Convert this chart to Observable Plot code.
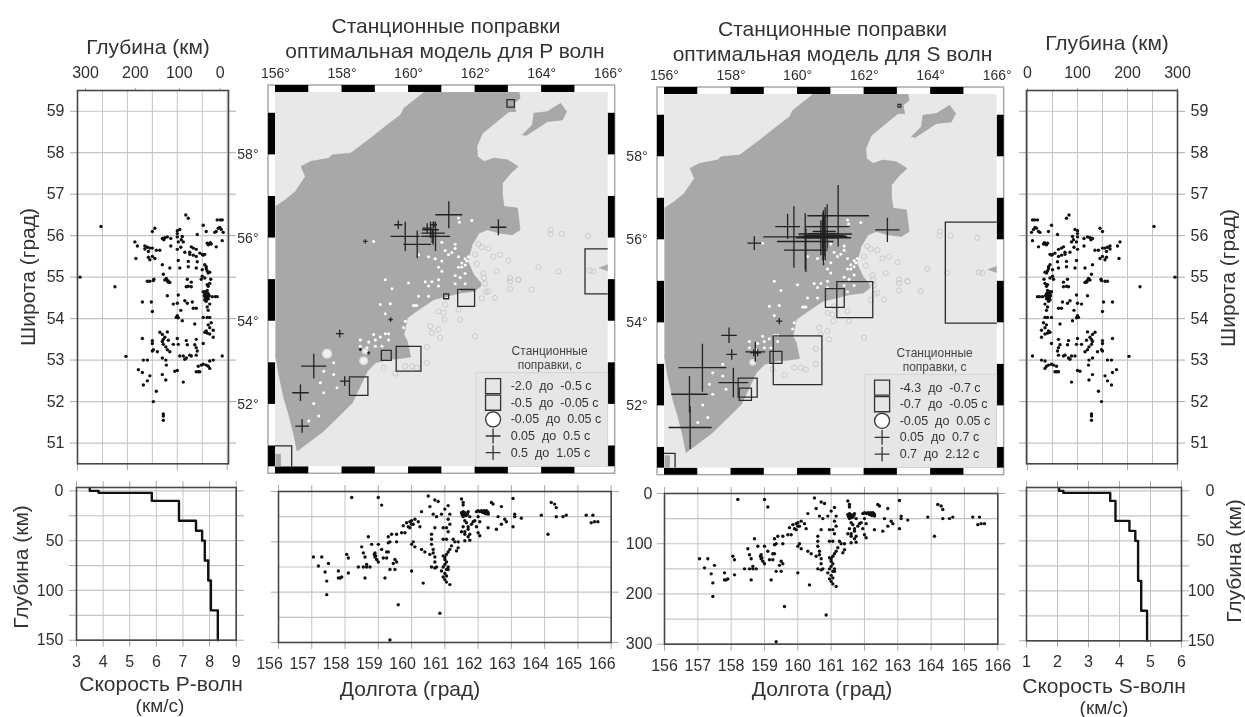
<!DOCTYPE html>
<html lang="ru"><head><meta charset="utf-8">
<script src="https://cdn.jsdelivr.net/npm/d3@7"></script>
<script src="https://cdn.jsdelivr.net/npm/@observablehq/plot@0.6"></script>
<style>
html,body{margin:0;padding:0;background:#fff;width:1245px;height:717px;overflow:hidden}
#c{position:relative;width:1245px;height:717px;font-family:"Liberation Sans",sans-serif;color:#333;filter:blur(.4px)}
.t{position:absolute;white-space:pre;transform:translate(-50%,-50%);line-height:1}
.v{transform:translate(-50%,-50%) rotate(-90deg)}
</style></head><body><div id="c"></div>
<script>
// Hypocentres: depth (km), latitude
const depthLat=[[295,55],[253,56.22],[225,54.77],[203,53.09],[83,56.5],[78,56.42],[14,56.38],[20,56.38],[10,56.38],[15,56.2],[12,56.15],[18,56.18],[8,56.08],[25,56.08],[48,56.25],[42,56.1],[60,56.03],[22,56.1],[10,55.88],[40,55.82],[36,55.8],[38,55.78],[34,55.83],[32,55.8],[22,55.73],[145,56.18],[150,56.1],[185,55.85],[180,55.75],[165,55.75],[160,55.72],[165,55.68],[155,55.7],[150,55.7],[142,55.65],[135,55.65],[158,55.62],[183,55.45],[158,55.48],[155,55.42],[150,55.5],[145,55.45],[130,55.3],[130,55.93],[125,55.95],[120,55.97],[113,55.93],[127,55.9],[100,56.12],[95,56.15],[100,56.05],[100,55.97],[90,55.98],[92,55.9],[98,55.85],[88,55.85],[113,55.75],[100,55.67],[93,55.72],[85,55.6],[72,55.73],[68,55.7],[75,55.55],[68,55.53],[62,55.67],[62,55.5],[75,55.6],[55,55.58],[50,55.55],[45,55.55],[48,55.53],[98,55.4],[78,55.38],[60,55.37],[115,55.22],[95,55.22],[78,55.25],[62,55.22],[50,55.18],[42,55.2],[45,55.3],[42,55.25],[38,55.1],[35,55.12],[40,55.15],[128,55.07],[125,54.93],[120,54.92],[118,54.88],[115,54.87],[122,54.97],[118,54.9],[160,54.9],[155,54.9],[148,54.92],[147,54.95],[80,54.95],[72,54.88],[82,54.77],[78,54.78],[72,54.77],[50,55.02],[52,54.95],[45,54.98],[33,54.95],[35,54.85],[38,54.78],[40,54.82],[48,54.65],[45,54.6],[42,54.55],[40,54.5],[45,54.45],[42,54.62],[38,54.6],[38,54.48],[42,54.42],[36,54.55],[40,54.68],[30,54.53],[24,54.53],[20,54.53],[44,54.5],[40,54.55],[46,54.55],[42,54.48],[44,54.65],[40,54.6],[120,54.55],[98,54.57],[170,54.4],[152,54.4],[100,54.37],[108,54.35],[85,54.43],[80,54.37],[70,54.4],[68,54.25],[62,54.25],[40,54.28],[38,54.2],[35,54.35],[150,54.17],[93,54.2],[100,54.07],[102,54.03],[98,54.02],[90,53.95],[65,53.87],[48,54.03],[40,54.03],[35,54.03],[38,53.85],[32,53.9],[35,53.78],[28,53.72],[40,53.65],[45,53.67],[42,53.7],[35,53.63],[28,53.55],[135,53.67],[130,53.62],[120,53.68],[125,53.55],[128,53.5],[150,53.47],[130,53.45],[118,53.48],[170,53.52],[150,53.4],[128,53.38],[123,53.32],[120,53.25],[115,53.2],[150,53.22],[148,53.25],[140,53.2],[100,53.52],[108,53.38],[98,53.38],[82,53.47],[80,53.37],[65,53.37],[62,53.5],[48,53.4],[62,53.3],[60,53.22],[62,53.12],[75,53.12],[72,53.1],[82,53.05],[88,53.1],[95,53.1],[85,53.02],[130,53.05],[123,53],[122,52.88],[168,53],[160,53],[10,53.1],[28,53],[35,52.98],[62,52.72],[58,52.72],[55,52.72],[58,52.85],[52,52.88],[48,52.9],[42,52.88],[38,52.85],[35,52.8],[105,52.73],[100,52.75],[130,52.65],[123,52.52],[88,52.47],[178,52.77],[170,52.7],[155,52.62],[160,52.5],[168,52.4],[142,52.25],[148,52],[128,51.7],[128,51.65],[128,51.55]];
// Hypocentres: longitude, depth (km)
const lonDepth=[[158.2,12],[159,12],[159.1,27],[160.5,9],[160.7,17],[160.8,20],[161.5,15],[161.55,22],[161.55,27],[162.4,22],[162.45,25],[162.7,30],[163.05,14],[164.2,22],[164.3,25],[164.35,32],[161.55,40],[161.6,45],[161.5,42],[161.65,47],[161.55,50],[161.7,40],[161.75,50],[161.58,44],[161.62,48],[161.52,46],[161.6,42],[161.68,44],[162,38],[162.05,40],[162.1,38],[162.15,42],[162.2,40],[162.25,38],[162.3,42],[161.95,40],[162.3,45],[162.22,44],[162.18,38],[162.28,40],[162.12,40],[163.1,45],[163.1,50],[163.3,53],[163.9,47],[164.35,50],[164.55,50],[164.65,47],[165.25,47],[165.45,47],[165.4,62],[165.5,60],[165.6,60],[162.6,50],[162.8,55],[162.85,60],[162.7,65],[163.05,70],[162.55,75],[164.1,85],[162.3,72],[162,50],[162.05,60],[161.9,58],[161.85,60],[161.95,70],[162,82],[162.05,88],[161.8,65],[161.6,58],[161.65,62],[161.7,70],[161.55,70],[161.6,80],[161.7,75],[161.75,85],[161.5,80],[161.6,85],[161.7,90],[161.6,98],[161.75,97],[161.1,28],[161,35],[161.15,45],[161.1,55],[160.9,45],[160.75,50],[160.65,45],[160.55,30],[160.3,40],[160.1,55],[160,58],[159.85,62],[159.95,60],[160.2,60],[161.15,65],[161.05,72],[160.95,72],[160.7,72],[161.1,80],[161.05,95],[160.95,95],[160.6,85],[160.6,95],[160.6,105],[160.65,115],[161.25,95],[161.3,100],[161.2,108],[161.15,115],[161.1,120],[161.05,125],[161.4,100],[161.4,112],[161.35,118],[160.3,115],[160.05,100],[160.1,110],[160,105],[160.4,120],[160.55,125],[160.65,122],[160.7,130],[160.7,140],[161,130],[160.95,128],[161,135],[161.05,140],[161,145],[160.95,150],[161.05,155],[161.1,150],[160.9,158],[161,163],[161.05,168],[161.1,155],[160.95,170],[161,175],[160.75,150],[160.7,152],[160.6,150],[161.05,180],[161.15,185],[160.35,182],[159.3,90],[159.4,85],[159.55,85],[159.7,82],[159.8,82],[159.55,100],[159.3,102],[159.35,100],[159.25,120],[159.3,120],[159.15,132],[159.25,132],[159.5,135],[159.55,140],[159.45,143],[159.35,155],[159.5,155],[159.2,172],[160,158],[158.7,90],[158.8,105],[158.5,110],[158.55,122],[158.6,130],[158.65,145],[158.55,150],[158.65,150],[158.75,150],[158.6,172],[158.4,150],[158.9,122],[158.92,128],[158.95,135],[159,105],[159.1,115],[158.88,125],[159,140],[158.9,130],[158.05,125],[158.1,132],[157.05,130],[157.3,130],[157.5,143],[157.2,148],[157.4,160],[157.8,158],[157.45,178],[157.85,172],[157.9,170],[157.8,172],[158.1,162],[157.45,205],[159.6,225],[159.35,295],[160.85,242],[159.9,70],[159.75,68],[160,65],[159.95,72],[160.05,65],[160.25,70]];
// Epicentres on land and offshore: longitude, latitude
const quakesLand=[[161.5,56.48],[161.9,56.42],[161.53,56.38],[158.95,55.92],[161,55.9],[161.4,55.85],[161.1,55.7],[161.3,55.65],[161.2,55.6],[161.4,55.75],[161.5,55.55],[161,55.45],[161.6,55.4],[160.8,55.5],[160.6,55.55],[160.3,55.6],[161.5,55.3],[161.6,55.3],[161.7,55.35],[161.75,55.45],[161.7,55.5],[161.8,55.55],[160.9,55.3],[161,55.2],[161.7,55.15],[161.55,55.05],[161.4,55.1],[159.3,55],[160,54.92],[160.5,54.95],[160.6,54.85],[160.7,54.95],[160.9,55],[160.9,54.85],[161.4,54.9],[161.5,54.75],[161.7,54.9],[159.5,54.78],[160.3,54.6],[160.6,54.6],[159.15,54.4],[159.45,54.42],[160.15,54.38],[160.2,54.38],[160.25,54.38],[159.3,54.18],[159.9,54],[159.85,53.85],[159.3,53.7],[159.4,53.7],[158.95,53.68],[159.15,53.62],[159.4,53.55],[159,53.55],[158.55,53.55],[158.8,53.5],[159.2,53.4],[159,53.4],[158.75,53.36],[158.55,53.4],[158.65,53.28],[157.75,53],[157.45,52.8],[157.75,52.72],[157.35,52.52],[157.85,52.4],[157.45,52.28],[157.15,52.02],[157.3,51.72],[157,51.6]];
const quakesSea=[[164.27,56.2],[164.27,56.1],[164.6,56.1],[165.4,56.05],[162.1,55.85],[162.2,55.78],[162.4,55.75],[162,55.6],[162.55,55.55],[162.75,55.6],[163,55.46],[162.05,55.38],[162.65,55.2],[162.25,55.15],[162.27,55.04],[163.9,55.3],[164.5,55.2],[165.45,55.22],[165.55,55.2],[163.05,55.04],[163.3,55],[162.3,54.9],[162.32,54.7],[162.2,54.55],[162.4,54.72],[162.6,54.56],[163.05,54.96],[163.05,54.78],[163.3,55],[163.7,54.76],[161.1,54.4],[160.9,54.24],[161.05,54.2],[161.5,54.28],[161.08,54.04],[161.55,54.04],[160.65,53.88],[160.9,53.8],[160.7,53.72],[160.95,53.6],[162,53.64],[160.55,53.38],[160.55,53],[159.25,52.88],[159.6,52.74],[159.9,52.92],[160.1,52.92],[160.25,52.88]];
// Coast outlines: longitude, latitude
const mainland=[[156,56.76],[156.3,56.92],[156.6,57.12],[156.9,57.48],[156.77,57.72],[157.05,57.84],[157.6,57.92],[157.7,58],[158.26,58.04],[158.86,58.4],[159.36,58.72],[159.76,58.96],[159.86,59.12],[160.46,59.5],[163.32,59.5],[163.35,59.36],[163.17,59.24],[163.22,59.04],[163.02,59.04],[162.77,58.88],[162.47,58.68],[162.22,58.52],[162.05,58.2],[162.07,57.96],[162.27,57.84],[162.57,57.92],[162.97,57.88],[163.29,57.72],[163.07,57.56],[162.82,57.32],[162.82,57.04],[162.87,56.76],[163.27,56.72],[163.32,56.4],[163.35,56.2],[163.12,56.08],[162.72,56.12],[162.37,56.2],[162.12,56.12],[161.91,55.84],[161.78,55.44],[161.96,55.12],[162.17,54.92],[162.17,54.84],[161.97,54.72],[161.56,54.68],[161.16,54.6],[160.76,54.52],[160.31,54.28],[159.96,54.08],[159.86,53.68],[159.96,53.52],[160.06,53.14],[159.68,53.1],[159.36,53.08],[159.01,53],[158.76,52.8],[158.31,52.04],[158.06,51.84],[157.45,51.36],[157.05,51.12],[156.65,50.88],[156.55,51.28],[156.4,51.76],[156.25,52.16],[156.1,52.72],[156,53.2]];
const karaginsky=[[163.42,58.48],[163.72,58.72],[163.77,59],[164.17,59.04],[164.57,59.24],[164.75,59.04],[164.62,58.84],[164.17,58.8],[163.87,58.64],[163.52,58.46]];
const bering=[[165.72,55.28],[166,55.36],[166,55.2]];
const paramushir=[[156,50.8],[156.15,50.8],[156.15,50.5],[156,50.5]];
// Station corrections P: longitude, latitude, |correction| (s)
const pNegative=[[163.07,59.24,.33],[165.98,55.2,2],[161.13,54.6,.22],[161.73,54.56,.75],[160,53.1,1.1],[159.33,53.18,.44],[158.5,52.44,.82],[156.02,50.63,1.38]];
const pNeutral=[[157.55,53.22,.35],[158.65,53.05,.3],[158.7,53.28,.2]];
const pPositive=[[162.7,56.26,.58],[161.21,56.56,.97],[159.69,56.32,.31],[159.9,56.04,1.05],[160.26,55.85,1],[158.7,55.92,.17],[160.74,56.12,.84],[160.66,56.2,.6],[160.81,56.04,1.05],[160.71,56.04,.48],[160.56,56.24,.36],[160.76,56.32,.24],[157.15,52.92,.9],[156.75,52.28,.6],[156.8,51.48,.5],[157.93,53.7,.29],[158.08,52.56,.36],[159.46,54.04,.17],[158.8,53.24,.12],[158.55,53.32,.12]];
// Station corrections S
const sNegative=[[163.06,59.23,.12],[165.96,55.21,4.3],[161.72,54.56,1.53],[161.12,54.6,.8],[160,53.1,2.07],[159.35,53.17,.51],[158.5,52.44,.81],[158.43,52.28,.52],[156,50.6,.9]];
const sNeutral=[[158.65,53.05,.2]];
const sPositive=[[162.7,56.24,.84],[161.22,56.58,2.12],[159.89,56.07,2.12],[159.7,56.32,.86],[160.23,55.96,1.95],[160.25,55.75,1.5],[160.89,56.32,1.53],[160.83,56.14,1.84],[160.78,56.05,1.9],[160.76,56.08,1.67],[160.8,56.1,1.4],[160.7,56.05,1.2],[160.75,56.15,1],[160.8,56.2,.8],[158.7,55.92,.48],[157.14,52.92,1.65],[156.75,52.28,1.26],[156.77,51.48,1.48],[157.94,53.7,.54],[158.02,53.24,.37],[158.07,52.56,1.03],[159.45,54.04,.23],[158.73,53.3,.69],[158.8,53.28,.25],[158.68,53.28,.25]];
const pLegend=["-2.0  до  -0.5 с","-0.5  до  -0.05 с","-0.05  до  0.05 с","0.05  до  0.5 с","0.5  до  1.05 с"];
const sLegend=["-4.3  до  -0.7 с","-0.7  до  -0.05 с","-0.05  до  0.05 с","0.05  до  0.7 с","0.7  до  2.12 с"];
const legendSymbols=["square","square","circle","plus","plus"];
const legendTitle=["Станционные","поправки, с"];
// Velocity models: layer tops (km) and velocities (km/s)
const pTops=[-3,0,2,10,30,40,50,70,90,120,150];
const pVel=[3.5,3.83,5.83,6.85,7.49,7.72,7.82,7.95,8.05,8.31];
const sTops=[-3,0,2,10,30,40,50,90,120,150];
const sVel=[2.05,2.19,3.7,3.87,4.32,4.51,4.6,4.7,4.89];
const lonTicks=[156,157,158,159,160,161,162,163,164,165,166];
const mapLonTicks=[156,158,160,162,164,166];
const mapLatTicks=[52,54,56,58];
const latTicks=[51,52,53,54,55,56,57,58,59];
const depthTicks=[0,100,200,300];
const depthGrid=[0,50,100,150,200,250,300];
const profileGrid=[0,25,50,75,100,125,150];
const profileLabels=[0,50,100,150];

const root=document.getElementById("c");
const FONT='"Liberation Sans",sans-serif', INK="#2f2f2f", GRID="#c4c4c4", TICK="#a8a8a8", EDGE="#474747";
const PLUS=.706; // d3's plus glyph is wider than the square of the same r
function panel(f,m,options){
  const p=Plot.plot({width:f.x1-f.x0+m.l+m.r,height:f.y1-f.y0+m.t+m.b,marginLeft:m.l,marginRight:m.r,marginTop:m.t,marginBottom:m.b,
    style:{position:"absolute",left:(f.x0-m.l)+"px",top:(f.y0-m.t)+"px",background:"transparent",overflow:"visible",fontFamily:FONT,maxWidth:"none"},...options});
  root.appendChild(p);
}
function label(text,x,y,size,vertical){
  const d=document.createElement("div");d.className="t"+(vertical?" v":"");d.textContent=text;
  d.style.left=x+"px";d.style.top=y+"px";d.style.fontSize=size+"px";root.appendChild(d);
}
const ax=(fn,ticks,o)=>fn(ticks,{label:null,stroke:TICK,fill:INK,fontSize:16,tickPadding:6,tickSize:7,...o});
const blank={tickFormat:()=>""};

function latPanel(f,side,xDomain,labelShift){
  const left=side==="left";
  panel(f,{l:40,r:40,t:32,b:12},{
    x:{domain:xDomain,axis:null},y:{domain:[50.5,59.5],axis:null},
    marks:[
      Plot.gridX(depthGrid,{stroke:GRID,strokeOpacity:1}),Plot.gridY(latTicks,{stroke:GRID,strokeOpacity:1,strokeWidth:1.2}),
      ...depthTicks.map((d,i)=>ax(Plot.axisX,[d],{anchor:"top",tickSize:3,tickPadding:9,dx:labelShift[i]})),
      ax(Plot.axisX,depthTicks,{anchor:"bottom",...blank}),
      ax(Plot.axisY,latTicks,{anchor:"left",...(left?{}:blank)}),ax(Plot.axisY,latTicks,{anchor:"right",...(left?blank:{})}),
      Plot.dot(depthLat,{x:d=>d[0],y:d=>d[1],r:1.7,fill:"#111"}),
      Plot.frame({stroke:EDGE,strokeWidth:1.6})
    ]});
}
function lonPanel(f,yDomain,dx){
  panel(f,{l:12,r:12,t:12,b:34},{
    x:{domain:[156,166],axis:null},y:{domain:yDomain,axis:null},
    marks:[
      Plot.gridX(lonTicks,{stroke:GRID,strokeOpacity:1}),Plot.gridY(depthGrid,{stroke:GRID,strokeOpacity:1,strokeWidth:1.2}),
      ax(Plot.axisX,lonTicks,{anchor:"bottom",tickSize:7,tickPadding:8,stroke:"none",dx}),
      ax(Plot.axisX,lonTicks,{anchor:"bottom",...blank}),
      ax(Plot.axisX,lonTicks,{anchor:"top",...blank}),
      ax(Plot.axisY,depthTicks,{anchor:"left",...blank}),ax(Plot.axisY,depthTicks,{anchor:"right",...blank}),
      Plot.dot(lonDepth,{x:d=>d[0],y:d=>d[1],r:1.7,fill:"#111"}),
      Plot.frame({stroke:EDGE,strokeWidth:1.6})
    ]});
}
function profilePanel(f,xDomain,tops,vel,side){
  const xt=d3.range(xDomain[0],xDomain[1]+1);
  const left=side==="left";
  const line=vel.flatMap((v,i)=>[[v,tops[i]],[v,tops[i+1]]]);
  panel(f,{l:42,r:42,t:12,b:34},{
    x:{domain:xDomain,axis:null},y:{domain:[150,-3.4],axis:null},
    marks:[
      Plot.gridX(xt,{stroke:GRID,strokeOpacity:1}),Plot.gridY(profileGrid,{stroke:GRID,strokeOpacity:1,strokeWidth:1.2}),
      ax(Plot.axisX,xt,{anchor:"bottom",tickPadding:8}),ax(Plot.axisX,xt,{anchor:"top",...blank}),
      ax(Plot.axisY,profileGrid,{anchor:"left",...blank}),ax(Plot.axisY,profileGrid,{anchor:"right",...blank}),
      ax(Plot.axisY,profileLabels,left?{anchor:"left",stroke:"none"}:{anchor:"right",stroke:"none",textAnchor:"end",tickPadding:26}),
      Plot.line(line,{x:d=>d[0],y:d=>d[1],stroke:"#111",strokeWidth:2.4,curve:"linear"}),
      Plot.frame({stroke:EDGE,strokeWidth:1.6})
    ]});
}
function mapPanel(f,neg,neu,pos,legend,k,titleLon){
  const bx=.21,by=.168;
  const LON=[156,166],LAT=[50.5,59.5];
  const lonBars=mapLonTicks.slice(0,5);
  const latBars=[[50.5,51],[52,53],[54,55],[56,57],[58,59]];
  const poly=(a)=>Plot.line(a,{x:d=>d[0],y:d=>d[1],fill:"#a8a8a8",stroke:"#9e9e9e",strokeWidth:.6,clip:true,curve:"linear"});
  const box=(o)=>Plot.rect([0],o);
  panel(f,{l:40,r:12,t:30,b:12},{
    x:{domain:LON,axis:null},y:{domain:LAT,axis:null},
    r:{type:"linear",domain:[0,5],range:[0,5*k]},
    marks:[
      box({x1:LON[0]-bx,x2:LON[1]+bx,y1:LAT[0]-by,y2:LAT[1]+by,fill:"#fff",stroke:"#a8a8a8",strokeWidth:1.5}),
      Plot.rect(lonBars,{x1:d=>d,x2:d=>d+1,y1:LAT[1],y2:LAT[1]+by,fill:"#000"}),
      Plot.rect(lonBars,{x1:d=>d,x2:d=>d+1,y1:LAT[0]-by,y2:LAT[0],fill:"#000"}),
      Plot.rect(latBars,{y1:d=>d[0],y2:d=>d[1],x1:LON[0]-bx,x2:LON[0],fill:"#000"}),
      Plot.rect(latBars,{y1:d=>d[0],y2:d=>d[1],x1:LON[1],x2:LON[1]+bx,fill:"#000"}),
      box({x1:LON[0],x2:LON[1],y1:LAT[0],y2:LAT[1],fill:"#e8e8e8"}),
      poly(mainland),poly(karaginsky),poly(bering),poly(paramushir),
      Plot.dot(quakesSea,{x:d=>d[0],y:d=>d[1],r:2.6,fill:"none",stroke:"#c6c6c6",strokeWidth:.9}),
      Plot.dot(quakesLand,{x:d=>d[0],y:d=>d[1],r:1.5,fill:"#fff"}),
      Plot.dot(neu,{x:d=>d[0],y:d=>d[1],r:d=>d[2],fill:"#f2f2f2",stroke:"#dcdcdc",clip:true}),
      Plot.dot(neg,{x:d=>d[0],y:d=>d[1],r:d=>d[2],symbol:"square",fill:"none",stroke:"#2b2b2b",strokeWidth:1.3,clip:true}),
      Plot.dot(pos,{x:d=>d[0],y:d=>d[1],r:d=>d[2]*PLUS,symbol:"plus",stroke:"#222",strokeWidth:1.3}),
      box({x1:162.04,x2:166,y1:50.5,y2:52.75,fill:"#e6e6e6",stroke:"#cfcfcf",strokeWidth:.8}),
      Plot.text(legendTitle,{x:titleLon,y:(d,i)=>53.27-i*.33,text:d=>d,fontSize:12,fill:"#444"}),
      ...legendSymbols.map((s,i)=>Plot.dot([i],{x:162.54,y:52.44-i*.4,symbol:s,r:s==="circle"?7.5:s==="square"?8.5:4.85,stroke:"#333",strokeWidth:1.3,fill:s==="circle"?"#fff":"none"})),
      Plot.text(legend,{x:163.07,y:(d,i)=>52.44-i*.4,text:d=>d,textAnchor:"start",fontSize:12.5,fill:"#333"}),
      ax(Plot.axisX,mapLonTicks,{anchor:"top",tickSize:0,tickPadding:14,fontSize:14,stroke:"none",tickFormat:d=>d+"°"}),
      ax(Plot.axisY,mapLatTicks,{anchor:"left",tickSize:0,tickPadding:17,fontSize:14,stroke:"none",tickFormat:d=>d+"°"})
    ]});
}

latPanel({x0:77,x1:228,y0:89.7,y1:463},"left",[300,-2.6],[-7,2,8,8]);
latPanel({x0:1026,x1:1177,y0:89.7,y1:463},"right",[-2,300],[0,0,0,0]);
profilePanel({x0:76.3,x1:236,y0:487.3,y1:640},[3,9],pTops,pVel,"left");
profilePanel({x0:1026,x1:1181,y0:486.7,y1:640},[1,6],sTops,sVel,"right");
lonPanel({x0:278,x1:610.7,y0:490.7,y1:641.7},[300,0],-9);
lonPanel({x0:663.7,x1:997,y0:493.3,y1:644},[300,0],0);
mapPanel({x0:275,x1:607.7,y0:91.7,y1:466},pNegative,pNeutral,pPositive,pLegend,12.7,164.24);
mapPanel({x0:664.3,x1:997,y0:94,y1:467.7},sNegative,sNeutral,sPositive,sLegend,13.26,164.12);
// Depth labels of the lower S panel
panel({x0:663.7,x1:997,y0:493.3,y1:644},{l:40,r:0,t:10,b:0},{
  x:{domain:[156,166],axis:null},y:{domain:[300,0],axis:null},
  marks:[ax(Plot.axisY,depthTicks,{anchor:"left",stroke:"none",tickSize:6,tickPadding:6})]});

label("Глубина (км)",148,46,21);
label("Глубина (км)",1107,42,21);
label("Станционные поправки",446,25,21);
label("оптимальная модель для P волн",445,50,21);
label("Станционные поправки",832.5,28,21);
label("оптимальная модель для S волн",832.5,53,21);
label("Широта (град)",27,277,21,true);
label("Широта (град)",1227,278,21,true);
label("Глубина (км)",20,567,21,true);
label("Глубина (км)",1233,561,21,true);
label("Скорость P-волн",161,683,21);
label("(км/с)",160,705,19);
label("Долгота (град)",410,688,21);
label("Долгота (град)",822,688,21);
label("Скорость S-волн",1104,685,21);
label("(км/с)",1104,707,19);
</script></body></html>
